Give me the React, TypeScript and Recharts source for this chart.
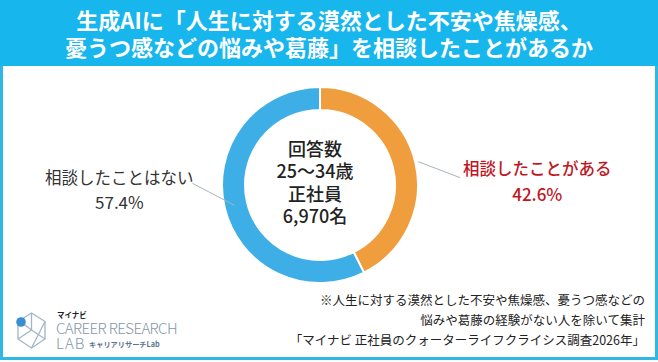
import React from 'react';
import { PieChart, Pie, Cell } from 'recharts';

const categories = ['相談したことがある', '相談したことはない'];
const shares = [42.6, 57.4];
const sliceColors = ['#ef9d3d', '#3daee6'];
const labelColors = ['#c0161f', '#333333'];

const titleLines = [
  '生成AIに「人生に対する漠然とした不安や焦燥感、',
  '憂うつ感などの悩みや葛藤」を相談したことがあるか',
];
const centerLines = ['回答数', '25〜34歳', '正社員', '6,970名'];
const noteLines = [
  '※人生に対する漠然とした不安や焦燥感、憂うつ感などの',
  '悩みや葛藤の経験がない人を除いて集計',
  '「マイナビ 正社員のクォーターライフクライシス調査2026年」',
];

const pieData = categories.map((name, i) => ({ name, value: shares[i] }));

const FONT = '"Noto Sans CJK JP", "Noto Sans", sans-serif';
const RAD = Math.PI / 180;

const renderLabel = (props: any) => {
  const { cx, cy, midAngle, outerRadius, index, name, value } = props;
  const right = index === 0;
  const r0 = right ? outerRadius + 3 : outerRadius - 10;
  const sx = cx + r0 * Math.cos(-midAngle * RAD);
  const sy = cy + r0 * Math.sin(-midAngle * RAD);
  const ex = right ? sx + 42 : sx - 42;
  const ey = right ? sy + 16 : sy - 22;
  const tx = right ? ex + 77 : ex - 73;
  const ty1 = right ? ey - 10 : ey - 6;
  const ty2 = right ? ey + 16 : ey + 18;
  const fill = labelColors[index];
  return (
    <g>
      <line x1={sx} y1={sy} x2={ex} y2={ey} stroke="#a9b4bd" strokeWidth={1} />
      <text x={tx} y={ty1} textAnchor="middle" dominantBaseline="central"
        fill={fill} fontSize={16.5} fontFamily={FONT} fontWeight={right ? 500 : 400}>
        {name}
      </text>
      <text x={tx} y={ty2} textAnchor="middle" dominantBaseline="central"
        fill={fill} fontSize={17} fontFamily={FONT} fontWeight={right ? 500 : 400}>
        {`${value.toFixed(1)}%`}
      </text>
    </g>
  );
};

const Logo = () => (
  <svg width={200} height={66} style={{ position: 'absolute', left: 0, top: 292 }}>
    <g stroke="#a3b6c8" strokeWidth={1.3} fill="none">
      <polygon points="31.5,21 45,29.5 45,47 31.5,56 18,47 18,29.5" />
      <line x1="31.5" y1="21" x2="31.5" y2="38" />
      <line x1="31.5" y1="38" x2="45" y2="47" />
      <line x1="31.5" y1="38" x2="18" y2="47" />
      <line x1="31.5" y1="56" x2="45" y2="29.5" />
    </g>
    <line x1="21" y1="30" x2="31.5" y2="38" stroke="#a3b6c8" strokeWidth={1.3} />
    <circle cx={21} cy={30} r={4.8} fill="#3a8fd2" />
    <text x={57} y={26} fontSize={7.5} fontWeight={700} fill="#222" fontFamily={FONT}>マイナビ</text>
    <text x={56} y={41.5} fontSize={15} fontWeight={300} letterSpacing={-0.6} fill="#8697a8" fontFamily={FONT}>CAREER RESEARCH</text>
    <text x={56} y={57} fontSize={15} fontWeight={300} letterSpacing={1} fill="#8697a8" fontFamily={FONT}>LAB</text>
    <text x={89} y={54.5} fontSize={7.2} fontWeight={700} fill="#5a7490" fontFamily={FONT}>キャリアリサーチLab</text>
  </svg>
);

const App: React.FC = () => {
  return (
    <div style={{ position: 'absolute', left: 0, top: 0, width: 658, height: 362, background: '#ffffff', overflow: 'hidden', fontFamily: FONT }}>
      <div style={{
        position: 'absolute', left: 0, top: 0, width: 658, height: 360,
        boxSizing: 'border-box', border: '3px solid #2fb8e2',
      }} />
      <div style={{
        position: 'absolute', left: 0, top: 0, width: 658, height: 66,
        background: '#17b6ed', color: '#ffffff', textAlign: 'center',
        fontSize: 22, fontWeight: 700, lineHeight: '27px', paddingTop: 6, boxSizing: 'border-box',
      }}>
        {titleLines.map((t) => <div key={t}>{t}</div>)}
      </div>

      <div style={{ position: 'absolute', left: 0, top: 0 }}>
        <PieChart width={658} height={362}>
          <Pie
            data={pieData}
            dataKey="value"
            nameKey="name"
            cx={315}
            cy={180}
            innerRadius={75}
            outerRadius={98}
            startAngle={90}
            endAngle={-270}
            stroke="#ffffff"
            strokeWidth={2}
            label={renderLabel}
            labelLine={false}
            isAnimationActive={false}
          >
            {pieData.map((d, i) => (
              <Cell key={d.name} fill={sliceColors[i]} />
            ))}
          </Pie>
        </PieChart>
      </div>

      <div style={{
        position: 'absolute', left: 250, top: 137, width: 130, textAlign: 'center',
        fontSize: 18, lineHeight: '22.3px', color: '#222', fontWeight: 500,
      }}>
        {centerLines.map((t) => <div key={t}>{t}</div>)}
      </div>

      <div style={{
        position: 'absolute', right: 13, top: 290, textAlign: 'right',
        fontSize: 12.5, lineHeight: '20px', color: '#222', whiteSpace: 'nowrap',
      }}>
        {noteLines.map((t) => <div key={t}>{t}</div>)}
      </div>

      <Logo />
    </div>
  );
};

export default App;
